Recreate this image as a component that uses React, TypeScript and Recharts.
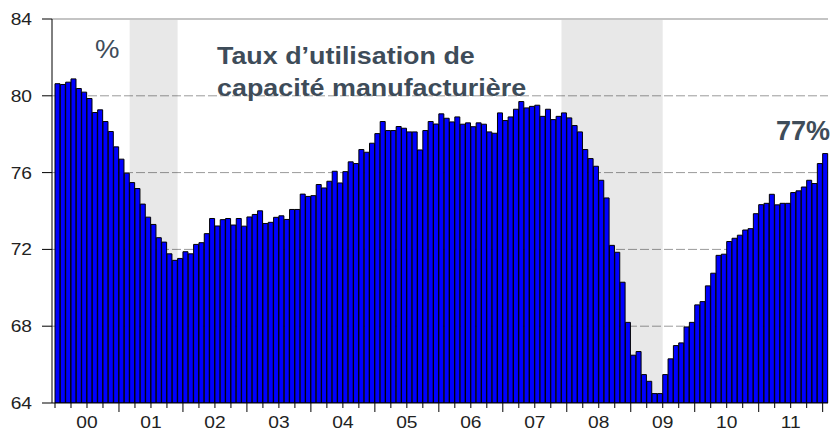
import React from "react";
import {
  BarChart,
  Bar,
  XAxis,
  YAxis,
  CartesianGrid,
  ReferenceArea,
  ReferenceLine,
} from "recharts";

// Taux d'utilisation de capacité manufacturière, mensuel, janv. 2000 - janv. 2012
const y2000 = [80.63, 80.59, 80.71, 80.88, 80.38, 80.19, 79.86, 79.13, 79.27, 78.66, 78.14, 77.34];
const y2001 = [76.7, 75.97, 75.48, 75.17, 74.36, 73.68, 73.3, 72.61, 72.38, 71.77, 71.43, 71.53];
const y2002 = [71.88, 71.77, 72.26, 72.35, 72.82, 73.61, 73.22, 73.55, 73.61, 73.27, 73.61, 73.21];
const y2003 = [73.69, 73.82, 74.01, 73.35, 73.41, 73.67, 73.75, 73.56, 74.08, 74.08, 74.88, 74.76];
const y2004 = [74.8, 75.38, 75.2, 75.55, 76.07, 75.46, 76.05, 76.56, 76.47, 77.2, 77.06, 77.53];
const y2005 = [78.03, 78.66, 78.19, 78.19, 78.4, 78.31, 78.12, 78.12, 77.18, 78.19, 78.66, 78.53];
const y2006 = [79.06, 78.83, 78.64, 78.9, 78.52, 78.59, 78.39, 78.59, 78.52, 78.12, 78.05, 79.11];
const y2007 = [78.71, 78.9, 79.3, 79.7, 79.37, 79.45, 79.51, 78.93, 79.3, 78.76, 78.93, 79.11];
const y2008 = [78.85, 78.45, 78.12, 77.2, 76.73, 76.33, 75.6, 74.68, 72.21, 71.85, 70.29, 68.2];
const y2009 = [66.49, 66.68, 65.48, 65.13, 64.49, 64.49, 65.48, 66.3, 66.99, 67.13, 67.96, 68.2];
const y2010 = [69.11, 69.28, 70.1, 70.76, 71.69, 71.75, 72.41, 72.58, 72.74, 73.01, 73.08, 73.86];
const y2011 = [74.33, 74.4, 74.87, 74.32, 74.4, 74.4, 74.96, 75.05, 75.25, 75.6, 75.43, 76.47];
const y2012 = [76.99];

const yearLabels = ["00", "01", "02", "03", "04", "05", "06", "07", "08", "09", "10", "11"];
const yTicks = [64, 68, 72, 76, 80, 84];
const gridValues = [68, 72, 76, 80];
// recessions, as month indexes (first, last)
const recessions = [
  [14, 22],
  [95, 113],
];

const values = [
  ...y2000, ...y2001, ...y2002, ...y2003, ...y2004, ...y2005,
  ...y2006, ...y2007, ...y2008, ...y2009, ...y2010, ...y2011, ...y2012,
];
const data = values.map((v, i) => ({ i, v }));

const W = 830;
const H = 433;
const TOP = 19;
const PLOT_H = 384;
const AXIS_W = 52;
const PAD_L = 3;
const RIGHT = 2;
const BOTTOM_Y = TOP + PLOT_H;
const BW = (W - AXIS_W - RIGHT - PAD_L) / values.length;

const FONT = "'Liberation Sans', Arial, sans-serif";
const TITLE_COLOR = "#3e4c59";

const XTick = (props: any) => {
  const { x, payload } = props;
  const i = payload.value as number;
  const left = x - BW / 2;
  const isYear = i % 12 === 0 && i > 0;
  return (
    <g>
      {i % 3 === 0 && (
        <line x1={left} x2={left} y1={BOTTOM_Y} y2={BOTTOM_Y + (isYear ? 9 : 5)} stroke="#000" />
      )}
      {i % 12 === 6 && (
        <text
          transform={`translate(${left},${BOTTOM_Y + 25}) scale(1.2,1)`}
          textAnchor="middle"
          fontSize={16}
          fontFamily={FONT}
          fill="#222"
        >
          {yearLabels[Math.floor(i / 12)]}
        </text>
      )}
    </g>
  );
};

const YTick = (props: any) => {
  const { x, y, payload } = props;
  return (
    <text
      transform={`translate(${x},${y + 6}) scale(1.2,1)`}
      textAnchor="end"
      fontSize={16}
      fontFamily={FONT}
      fill="#222"
    >
      {payload.value}
    </text>
  );
};

export default function App() {
  return (
    <div style={{ position: "absolute", left: 0, top: 0, width: W, height: H, background: "#fff" }}>
      <BarChart
        width={W}
        height={H}
        data={data}
        margin={{ top: TOP, right: RIGHT, bottom: 0, left: 0 }}
        barCategoryGap={0}
        barGap={0}
      >
        <CartesianGrid
          vertical={false}
          horizontalValues={gridValues}
          stroke="#9a9a9a"
          strokeDasharray="9 3"
        />
        <XAxis
          dataKey="i"
          type="category"
          height={H - TOP - PLOT_H}
          interval={0}
          tickLine={false}
          tick={<XTick />}
          padding={{ left: PAD_L, right: 0 }}
          stroke="#000"
        />
        <YAxis
          domain={[64, 84]}
          ticks={yTicks}
          width={AXIS_W}
          tickSize={10}
          tickMargin={10}
          tick={<YTick />}
          stroke="#000"
          allowDataOverflow
        />
        {recessions.map(([a, b]) => (
          <ReferenceArea
            key={a}
            x1={a}
            x2={b}
            y1={64}
            y2={84}
            fill="#000"
            fillOpacity={0.09}
            stroke="none"
          />
        ))}
        {/* light frame line along the top of the plot */}
        <ReferenceLine y={84} stroke="#c4c4c4" strokeWidth={2} />
        <Bar
          dataKey="v"
          fill="#0000ff"
          stroke="#000"
          strokeWidth={1}
          isAnimationActive={false}
        />
      </BarChart>
      <svg
        width={W}
        height={H}
        style={{ position: "absolute", left: 0, top: 0, pointerEvents: "none" }}
      >
        <text
          transform="translate(95,58) scale(1.1,1)"
          fontSize={25}
          fontFamily={FONT}
          fill={TITLE_COLOR}
        >
          %
        </text>
        <text
          transform="translate(217,64) scale(1.12,1)"
          fontSize={24}
          fontWeight="bold"
          fontFamily={FONT}
          fill={TITLE_COLOR}
        >
          Taux d’utilisation de
        </text>
        <text
          transform="translate(217,96) scale(1.12,1)"
          fontSize={24}
          fontWeight="bold"
          fontFamily={FONT}
          fill={TITLE_COLOR}
        >
          capacité manufacturière
        </text>
        <text
          transform="translate(776,140) scale(1.0,1)"
          fontSize={27}
          fontWeight="bold"
          fontFamily={FONT}
          fill={TITLE_COLOR}
        >
          77%
        </text>
      </svg>
    </div>
  );
}
